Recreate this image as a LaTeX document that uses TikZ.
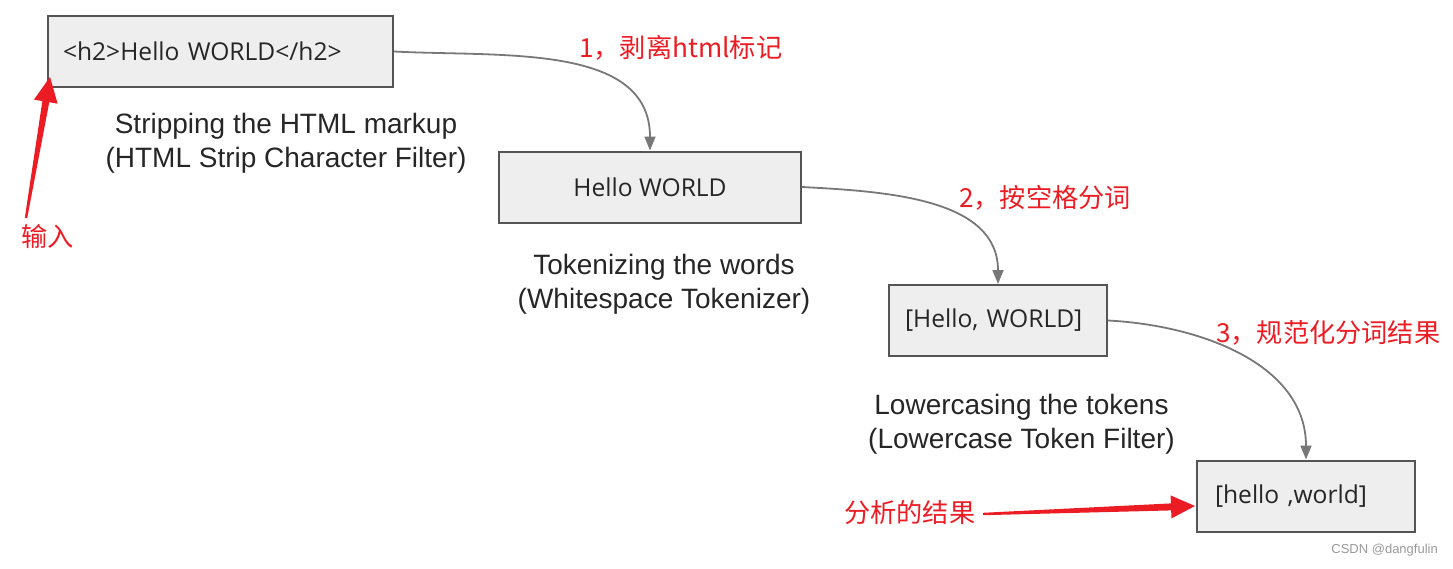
\documentclass[tikz,border=0pt]{standalone}
\usepackage{fontspec}
\setmainfont{Liberation Sans}
\newfontfamily\boxfont{Open Sans}
\newfontfamily\cjk{Noto Sans CJK SC}
\usetikzlibrary{arrows.meta,calc}
\definecolor{redann}{RGB}{236,28,36}
\definecolor{boxfill}{RGB}{238,238,238}
\definecolor{boxline}{RGB}{85,85,85}
\definecolor{flow}{RGB}{120,120,120}
\tikzset{
  stepbox/.style={draw=boxline, line width=2pt, fill=boxfill, minimum height=71pt,
    font=\boxfont\fontsize{24.6}{28}\selectfont, text=black!85},
  lbl/.style={align=center, font=\fontsize{28}{34}\selectfont, text=black!85, inner sep=0pt},
  redlbl/.style={anchor=west, text=redann, font=\cjk\fontsize{26.2}{30}\selectfont, inner sep=0pt},
  flowarrow/.style={draw=flow, line width=1.8pt, -{Triangle[length=14pt,width=11pt]}},
}
\begin{document}
\begin{tikzpicture}[x=1pt,y=-1pt]
\useasboundingbox (0,0) rectangle (1453,568);
% boxes
\node[stepbox, text width=315pt, inner xsep=15pt, align=left] (b1) at (220.5,51.5) {<h2>Hello WORLD</h2>};
\node[stepbox, minimum width=302pt] (b2) at (650,187) {Hello WORLD};
\node[stepbox, text width=186pt, inner xsep=16pt, align=left] (b3) at (998,320.5) {[Hello, WORLD]};
\node[stepbox, text width=182pt, inner xsep=18pt, align=left] (b4) at (1306,496) {[hello ,world]};
% labels
\node[lbl] (l1) at (286,143.5) {Stripping the HTML markup\\(HTML Strip Character Filter)};
\node[lbl] (l2) at (664,284) {Tokenizing the words\\(Whitespace Tokenizer)};
\node[lbl] (l3) at (1021.5,424) {Lowercasing the tokens\\(Lowercase Token Filter)};
% flow connectors
\draw[flowarrow] (b1.east) to[out=-3,in=90] (b2.north);
\draw[flowarrow] (b2.east) to[out=-3,in=90] (b3.north);
\draw[flowarrow] (b3.east) to[out=-3,in=90] (b4.north);
% red annotations
\node[redlbl] (r1) at (579,48) {1，剥离html标记};
\node[redlbl] (r2) at (959,198) {2，按空格分词};
\node[redlbl] (r3) at (1216,333) {3，规范化分词结果};
\node[redlbl] (rin) at (21,236) {输入};
\node[redlbl] (rout) at (844,513) {分析的结果};
% red tapered arrows
\coordinate (a1) at (26,218);
\coordinate (t1) at (50,77);
\fill[redann] ($(a1)!1.2pt!-90:(t1)$) -- ($(t1)!25pt!(a1)!3.5pt!90:(a1)$) -- ($(t1)!25pt!(a1)!12pt!90:(a1)$) -- (t1)
  -- ($(t1)!25pt!(a1)!12pt!-90:(a1)$) -- ($(t1)!25pt!(a1)!3.5pt!-90:(a1)$) -- ($(a1)!1.2pt!90:(t1)$) -- cycle;
\coordinate (a2) at (983,514);
\coordinate (t2) at (1195,506);
\fill[redann] ($(a2)!1.2pt!-90:(t2)$) -- ($(t2)!24pt!(a2)!3.5pt!90:(a2)$) -- ($(t2)!24pt!(a2)!11.5pt!90:(a2)$) -- (t2)
  -- ($(t2)!24pt!(a2)!11.5pt!-90:(a2)$) -- ($(t2)!24pt!(a2)!3.5pt!-90:(a2)$) -- ($(a2)!1.2pt!90:(t2)$) -- cycle;
% watermark
\node[anchor=east, text=black!40, font=\fontsize{13}{15}\selectfont, inner sep=0pt] (wm) at (1438,550) {CSDN @dangfulin};
\end{tikzpicture}
\end{document}
